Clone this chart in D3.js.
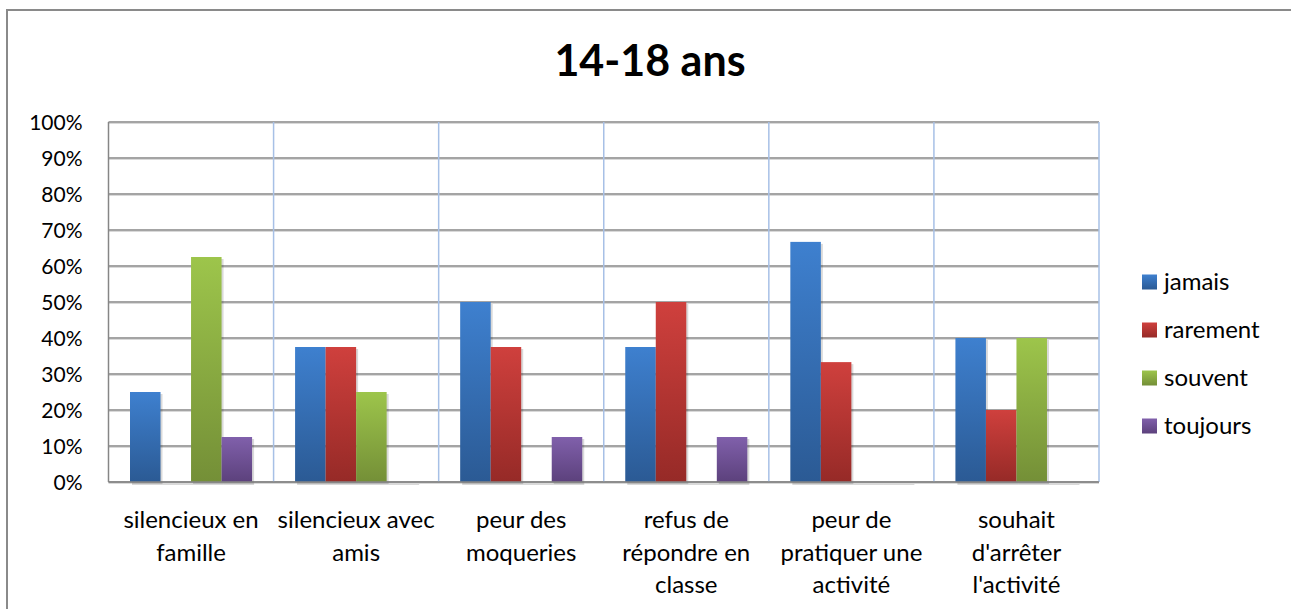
<!DOCTYPE html>
<html><head><meta charset="utf-8">
<script src="https://cdn.jsdelivr.net/npm/d3@7"></script>
<style>body{margin:0;background:#fff}svg{display:block}text{font-family:Lato,"Open Sans",sans-serif;fill:#000}</style>
</head><body><svg id="c" width="1291" height="609"></svg>
<script>
const categories = [
  ["silencieux en","famille"],
  ["silencieux avec","amis"],
  ["peur des","moqueries"],
  ["refus de","répondre en","classe"],
  ["peur de","pratiquer une","activité"],
  ["souhait","d'arrêter","l'activité"]
];
const series = ["jamais","rarement","souvent","toujours"];
const jamais   = [0.25, 0.375, 0.50, 0.375, 0.667, 0.40];
const rarement = [0.00, 0.375, 0.375, 0.50, 0.333, 0.20];
const souvent  = [0.625, 0.25, 0.00, 0.00, 0.00, 0.40];
const toujours = [0.125, 0.00, 0.125, 0.125, 0.00, 0.00];
const yTicks = [0,0.1,0.2,0.3,0.4,0.5,0.6,0.7,0.8,0.9,1.0];
const title = "14-18 ans";
const colors = {jamais:["#3e80cf","#2b5a94"], rarement:["#cf403d","#962a27"], souvent:["#9dc54b","#748f37"], toujours:["#8060ab","#5c417c"]};

const values = [jamais, rarement, souvent, toujours];
const svg = d3.select("#c");
const defs = svg.append("defs");
series.forEach(s=>{
  const g = defs.append("linearGradient").attr("id","g_"+s).attr("x1",0).attr("y1",0).attr("x2",0).attr("y2",1);
  g.append("stop").attr("offset","0%").attr("stop-color",colors[s][0]);
  g.append("stop").attr("offset","100%").attr("stop-color",colors[s][1]);
});

// chart border
svg.append("rect").attr("x",7).attr("y",10).attr("width",1300).attr("height",620)
  .attr("fill","none").attr("stroke","#8a8a8a").attr("stroke-width",2);

const L=108.5, R=1099, T=122, B=482;
const x = d3.scaleBand().domain(d3.range(categories.length)).range([L,R]).padding(0);
const xs = d3.scaleBand().domain(series).range([21.5, x.bandwidth()-21.5]).padding(0);
const y = d3.scaleLinear().domain([0,1]).range([B,T]);

// horizontal gridlines with light shadow
const gh = svg.append("g");
yTicks.forEach(t=>{
  gh.append("line").attr("x1",L).attr("x2",R).attr("y1",y(t)+1.5).attr("y2",y(t)+1.5).attr("stroke","#d9d9d9").attr("stroke-width",1);
  gh.append("line").attr("x1",L).attr("x2",R).attr("y1",y(t)).attr("y2",y(t)).attr("stroke","#868686").attr("stroke-width",1.5);
});
// vertical gridlines
d3.range(1,categories.length+1).forEach(i=>{
  const xv = i<categories.length ? x(i) : R;
  svg.append("line").attr("x1",xv).attr("x2",xv).attr("y1",T).attr("y2",B).attr("stroke","#a7c0e6").attr("stroke-width",1.5);
});
// left axis
svg.append("line").attr("x1",L).attr("x2",L).attr("y1",T).attr("y2",B).attr("stroke","#868686").attr("stroke-width",1.5);

// bars
const bars = [];
categories.forEach((c,i)=>series.forEach((s,j)=>bars.push({i,s,v:values[j][i]})));
const gb = svg.append("g");
gb.selectAll("rect.sh").data(bars).join("rect").attr("class","sh")
  .attr("x",d=>x(d.i)+xs(d.s)+2).attr("y",d=>y(d.v)+2)
  .attr("width",xs.bandwidth()).attr("height",d=>B-y(d.v)+1)
  .attr("fill","#000").attr("opacity",0.15);
gb.selectAll("rect.b").data(bars.filter(d=>d.v>0)).join("rect").attr("class","b")
  .attr("x",d=>x(d.i)+xs(d.s)).attr("y",d=>y(d.v))
  .attr("width",xs.bandwidth()).attr("height",d=>B-y(d.v))
  .attr("fill",d=>"url(#g_"+d.s+")");
// bottom axis line on top
svg.append("line").attr("x1",L).attr("x2",R).attr("y1",B).attr("y2",B).attr("stroke","#868686").attr("stroke-width",1.5);

// y axis labels
const yAxis = d3.axisLeft(y).tickValues(yTicks).tickFormat(d3.format(".0%")).tickSize(0).tickPadding(0);
const ya = svg.append("g").attr("transform",`translate(${L-26},0)`).call(yAxis);
ya.select(".domain").remove();
ya.selectAll("text").attr("font-size",21).attr("font-family","Lato, sans-serif").attr("fill","#000").attr("dy","0.35em");

// x labels
const gx = svg.append("g");
categories.forEach((lines,i)=>{
  const t = gx.append("text").attr("x",x(i)+x.bandwidth()/2).attr("y",528).attr("text-anchor","middle").attr("font-size",24);
  lines.forEach((ln,k)=>t.append("tspan").attr("x",x(i)+x.bandwidth()/2).attr("dy",k?32.5:0).text(ln));
});

// title
svg.append("text").attr("x",650).attr("y",76).attr("text-anchor","middle").attr("font-size",43).attr("font-weight","bold").text(title);

// legend
const lg = svg.append("g");
series.forEach((s,k)=>{
  const cy = 282 + k*48;
  lg.append("rect").attr("x",1142).attr("y",cy-7.5).attr("width",15).attr("height",15).attr("fill","url(#g_"+s+")");
  lg.append("text").attr("x",1164).attr("y",cy).attr("dy","0.35em").attr("font-size",24).text(s);
});
</script></body></html>
